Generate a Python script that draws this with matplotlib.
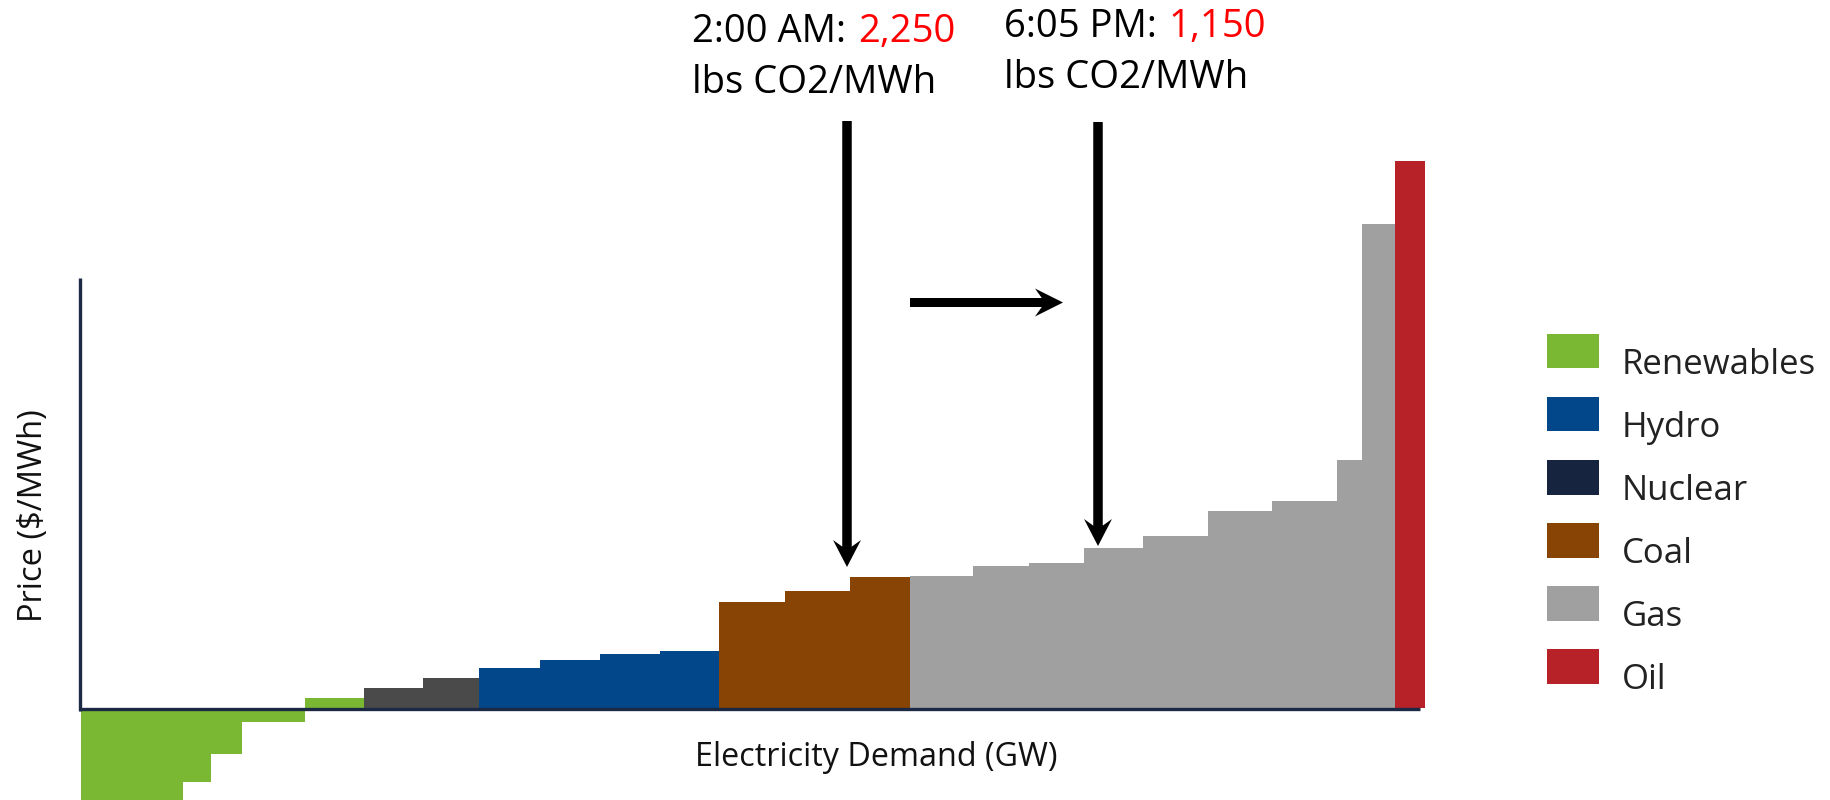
import matplotlib
matplotlib.use("Agg")
import matplotlib.pyplot as plt
from matplotlib.patches import Patch, Polygon
from matplotlib.transforms import ScaledTranslation
import numpy as np

plt.rcParams["font.family"] = ["Open Sans", "DejaVu Sans"]

# ---- merit-order supply stack -------------------------------------------
fuels = (["Renewables"] * 5 + ["Nuclear"] * 2 + ["Hydro"] * 4 +
         ["Coal"] * 3 + ["Gas"] * 9 + ["Oil"])
capacity_gw = [10.2, 2.8, 3.1, 6.3, 5.9,
               5.9, 5.6,
               6.1, 6.0, 6.0, 5.9,
               6.6, 6.5, 6.0,
               6.3, 5.6, 5.5, 5.9, 6.5, 6.4, 6.5, 2.5, 3.3,
               3.0]
price_usd_mwh = [-55, -37, -23, -7, 5,
                 10, 15,
                 20, 24, 27, 28.5,
                 53, 58.5, 65.5,
                 66, 71, 72.5, 80, 86, 98.5, 103.5, 124, 242,
                 273.5]

legend_labels = ["Renewables", "Hydro", "Nuclear", "Coal", "Gas", "Oil"]
bar_colors = {"Renewables": "#7ab833", "Hydro": "#02478a", "Nuclear": "#4a4a4a",
              "Coal": "#874404", "Gas": "#a0a0a0", "Oil": "#b72229"}
legend_colors = {"Renewables": "#7ab833", "Hydro": "#02478a", "Nuclear": "#17243f",
                 "Coal": "#874404", "Gas": "#a0a0a0", "Oil": "#b72229"}

snapshots = [("2:00 AM:", "2,250"), ("6:05 PM:", "1,150")]
unit_text = "lbs CO2/MWh"

W, H = 1830, 800
fig = plt.figure(figsize=(W / 100, H / 100), dpi=100)
ax = fig.add_axes([81 / W, 0, 1400 / W, 700 / H])
ax.set_xlim(0, 140)
ax.set_ylim(-46, 304)
ax.axis("off")

left = np.concatenate([[0.0], np.cumsum(capacity_gw)[:-1]])
ax.bar(left, price_usd_mwh, width=capacity_gw, align="edge",
       color=[bar_colors[f] for f in fuels], linewidth=0, zorder=2)

# hand-drawn style axes
axis_color = "#1b2945"
ax.plot([-0.1, -0.1], [-1.3, 215], color=axis_color, lw=2.4,
        solid_capstyle="butt", clip_on=False, zorder=4)
ax.plot([-0.2, 133.9], [-0.5, -0.5], color=axis_color, lw=2.4,
        solid_capstyle="butt", clip_on=False, zorder=4)


def block_arrow(x0, y0, x1, y1, shaft=9.5, head_len=27, head_half=14, notch=10):
    """Filled arrow with a swept-back head, sized in pixels."""
    p0 = ax.transData.transform((x0, y0))
    p1 = ax.transData.transform((x1, y1))
    d = p1 - p0
    u = d / np.hypot(*d)
    n = np.array([-u[1], u[0]])
    base = p1 - u * head_len
    join = base + u * notch * (1 - (shaft / 2) / head_half)
    verts = [p0 + n * shaft / 2, join + n * shaft / 2, base + n * head_half, p1,
             base - n * head_half, join - n * shaft / 2, p0 - n * shaft / 2]
    verts = ax.transData.inverted().transform(np.array(verts))
    ax.add_patch(Polygon(verts, closed=True, facecolor="black", edgecolor="none",
                         clip_on=False, zorder=5))


block_arrow(76.6, 293.5, 76.6, 70.5)
block_arrow(101.7, 293.0, 101.7, 81.0)
block_arrow(82.9, 202.75, 98.2, 202.75, shaft=9, head_len=28, head_half=14, notch=10)

# annotations above the arrows
title_fs = 27.5
for (when, value), (px, py) in zip(snapshots, [(692, 42), (1004, 37)]):
    t = fig.text(px / W, 1 - py / H, when, fontsize=title_fs, color="black",
                 va="baseline", ha="left")
    ax.annotate(value, xy=(1, 0), xycoords=t, xytext=(12, 0),
                textcoords="offset pixels", fontsize=title_fs, color="#ff0000",
                va="bottom", ha="left", annotation_clip=False)
    fig.text(px / W, 1 - (py + 51) / H, unit_text, fontsize=title_fs,
             color="black", va="baseline", ha="left")

# axis titles
fig.text(876 / W, 1 - 766 / H, "Electricity Demand (GW)", fontsize=23.3,
         color="#111111", ha="center", va="baseline")
fig.text(34 / W, 1 - 516 / H, "Price ($/MWh)", fontsize=23.5, color="#111111",
         ha="center", va="center", rotation=90)

handles = [Patch(facecolor=legend_colors[k], edgecolor="none") for k in legend_labels]
leg = fig.legend(handles, legend_labels, loc="upper left",
                 bbox_to_anchor=(1547 / W, 1 - 334 / H), frameon=False, fontsize=25,
                 handlelength=1.5, handleheight=1.15, handletextpad=0.66,
                 labelspacing=0.75, borderpad=0, borderaxespad=0,
                 labelcolor="#222222")
# sit the labels level with the swatch centres
drop = ScaledTranslation(0, -11 / 100, fig.dpi_scale_trans)
for txt in leg.get_texts():
    txt.set_transform(txt.get_transform() + drop)

fig.savefig("out.png", dpi=100)
